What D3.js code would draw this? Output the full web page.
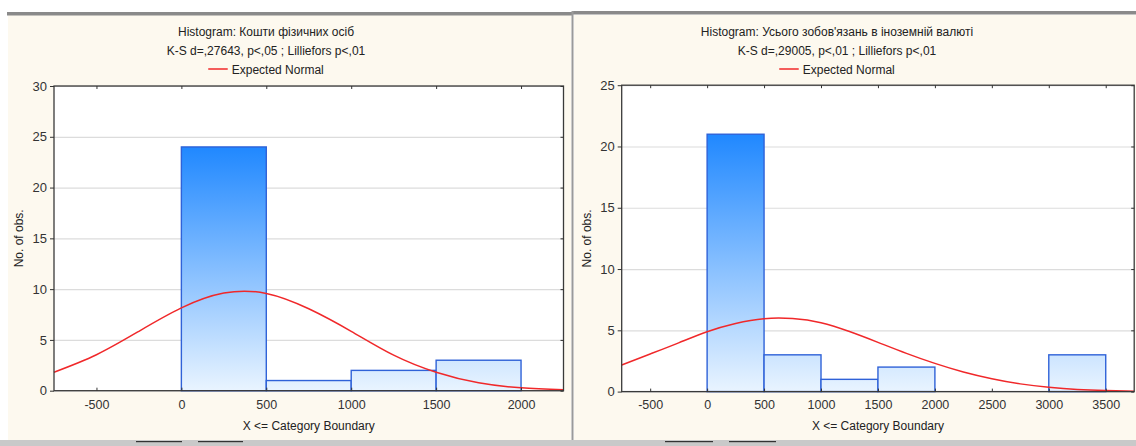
<!DOCTYPE html>
<html><head><meta charset="utf-8">
<script src="https://cdn.jsdelivr.net/npm/d3@7"></script>
<style>
html,body{margin:0;padding:0;background:#fff;}
svg{display:block;font-family:"Liberation Sans",Arial,sans-serif;}
</style></head>
<body>
<svg id="c" width="1136" height="446"></svg>
<script>
// ---------- DATA ----------
const leftTitle = "Histogram: Кошти фізичних осіб";
const leftStats = "K-S d=,27643, p<,05 ; Lilliefors p<,01";
const leftBinStarts = [0, 500, 1000, 1500];
const leftCounts = [24, 1, 2, 3];
const leftCurveX = [-750, -500, -250, 0, 250, 500, 750, 1000, 1250, 1500, 1750, 2000, 2250];
const leftCurveY = [1.82, 3.54, 5.85, 8.15, 9.61, 9.58, 8.07, 5.85, 3.5, 1.82, 0.78, 0.28, 0.09];
const leftXTicks = [-500, 0, 500, 1000, 1500, 2000];
const leftYTicks = [0, 5, 10, 15, 20, 25, 30];

const rightTitle = "Histogram: Усього зобов'язань в іноземній валюті";
const rightStats = "K-S d=,29005, p<,01 ; Lilliefors p<,01";
const rightBinStarts = [0, 500, 1000, 1500, 3000];
const rightCounts = [21, 3, 1, 2, 3];
const rightCurveX = [-750, -500, -250, 0, 250, 500, 750, 1000, 1250, 1500, 1750, 2000, 2250, 2500, 2750, 3000, 3250, 3500, 3750];
const rightCurveY = [2.17, 3.07, 3.98, 4.89, 5.56, 5.95, 5.96, 5.62, 4.9, 4.02, 3.12, 2.3, 1.6, 1.05, 0.63, 0.35, 0.17, 0.08, 0.03];
const rightXTicks = [-500, 0, 500, 1000, 1500, 2000, 2500, 3000, 3500];
const rightYTicks = [0, 5, 10, 15, 20, 25];

const binWidth = 500;
const legendLabel = "Expected Normal";
const xTitle = "X <= Category Boundary";
const yTitle = "No. of obs.";

// ---------- DRAW ----------
const svg = d3.select("#c");
const cream = "#fdf9ef";

// background panels
svg.append("rect").attr("x",0).attr("y",0).attr("width",1136).attr("height",446).attr("fill","#fff");
svg.append("rect").attr("x",8).attr("y",15).attr("width",563).attr("height",425).attr("fill",cream);
svg.append("rect").attr("x",574).attr("y",15).attr("width",562).attr("height",425).attr("fill",cream);
svg.append("rect").attr("x",7).attr("y",12).attr("width",565).attr("height",3.5).attr("fill","#8a8a8a");
svg.append("rect").attr("x",572).attr("y",11).attr("width",564).attr("height",3.5).attr("fill","#8a8a8a");
svg.append("rect").attr("x",571.5).attr("y",11).attr("width",2).attr("height",429).attr("fill","#9a9a9a");
// bottom strip
svg.append("rect").attr("x",0).attr("y",440).attr("width",1136).attr("height",6).attr("fill","#c9c9c9");
[[136,182],[198,243],[665,713],[729,776]].forEach(s=>{
  svg.append("rect").attr("x",s[0]).attr("y",441).attr("width",s[1]-s[0]).attr("height",1.2).attr("fill","#333");
});

const defs = svg.append("defs");
const fmt = d => String(d);

function panel(o){
  const x = d3.scaleLinear().domain(o.xDomain).range([o.left, o.right]);
  const y = d3.scaleLinear().domain(o.yDomain).range([o.bottom, o.top]);
  const g = svg.append("g");
  const W = o.right - o.left, H = o.bottom - o.top;

  g.append("rect").attr("x",o.left).attr("y",o.top).attr("width",W).attr("height",H).attr("fill","#fff");

  // grid
  const grid = g.append("g").attr("transform",`translate(${o.left},0)`)
    .call(d3.axisLeft(y).tickValues(o.yTicks).tickSize(-W).tickFormat(""));
  grid.select(".domain").remove();
  grid.selectAll("line").attr("stroke","#dcdcdc").attr("stroke-width",1.2);

  // gradient
  const gid = "grad"+o.id;
  const maxC = d3.max(o.counts);
  const grad = defs.append("linearGradient").attr("id",gid)
    .attr("gradientUnits","userSpaceOnUse")
    .attr("x1",0).attr("x2",0).attr("y1",y(maxC)).attr("y2",y(0));
  grad.append("stop").attr("offset","0%").attr("stop-color","#2088ff");
  grad.append("stop").attr("offset","100%").attr("stop-color","#e9f4ff");

  // bars
  g.selectAll("rect.bar").data(o.binStarts.map((s,i)=>({s, c:o.counts[i]})))
    .enter().append("rect").attr("class","bar")
    .attr("x",d=>x(d.s)).attr("width",d=>x(d.s+binWidth)-x(d.s))
    .attr("y",d=>y(d.c)).attr("height",d=>y(0)-y(d.c))
    .attr("fill",`url(#${gid})`).attr("stroke","#2f62d8").attr("stroke-width",1.4);

  // curve
  const line = d3.line().x(d=>x(d[0])).y(d=>y(d[1])).curve(d3.curveNatural);
  g.append("path").datum(o.curveX.map((v,i)=>[v,o.curveY[i]]))
    .attr("d",line).attr("fill","none").attr("stroke","#f0282a").attr("stroke-width",1.5);

  // frame
  g.append("rect").attr("x",o.left).attr("y",o.top).attr("width",W).attr("height",H)
    .attr("fill","none").attr("stroke","#3a3a3a").attr("stroke-width",1.3);

  // axes
  const ax = g.append("g").attr("transform",`translate(0,${o.bottom})`)
    .call(d3.axisBottom(x).tickValues(o.xTicks).tickSize(-3).tickPadding(9).tickFormat(fmt));
  ax.select(".domain").remove();
  ax.selectAll("line").attr("stroke","#333");
  ax.selectAll("text").attr("font-size",12.5).attr("fill","#333").attr("font-family","Liberation Sans, Arial, sans-serif");

  const at = g.append("g").attr("transform",`translate(0,${o.top})`)
    .call(d3.axisTop(x).tickValues(o.xTicks).tickSize(-3).tickFormat(""));
  at.select(".domain").remove();
  at.selectAll("line").attr("stroke","#333");

  const ay = g.append("g").attr("transform",`translate(${o.left},0)`)
    .call(d3.axisLeft(y).tickValues(o.yTicks).tickSize(4).tickPadding(3).tickFormat(fmt));
  ay.select(".domain").remove();
  ay.selectAll("line").attr("stroke","#333");
  ay.selectAll("text").attr("font-size",13).attr("fill","#333").attr("font-family","Liberation Sans, Arial, sans-serif");

  const ar = g.append("g").attr("transform",`translate(${o.right},0)`)
    .call(d3.axisRight(y).tickValues(o.yTicks).tickSize(-3).tickFormat(""));
  ar.select(".domain").remove();
  ar.selectAll("line").attr("stroke","#333");

  // titles
  const tc = o.titleX;
  g.append("text").attr("x",tc).attr("y",36).attr("text-anchor","middle").attr("font-size",12).attr("fill","#222").text(o.title);
  g.append("text").attr("x",tc).attr("y",54.5).attr("text-anchor","middle").attr("font-size",12).attr("fill","#222").text(o.stats);
  const lg = g.append("g");
  const lt = lg.append("text").attr("x",23.5).attr("y",73.5).attr("font-size",12).attr("fill","#222").text(legendLabel);
  lg.append("line").attr("x1",0).attr("x2",19.5).attr("y1",69).attr("y2",69).attr("stroke","#f0282a").attr("stroke-width",1.5);
  const lw = 23.5 + lt.node().getComputedTextLength();
  lg.attr("transform",`translate(${tc - lw/2},0)`);

  g.append("text").attr("x",(o.left+o.right)/2).attr("y",430).attr("text-anchor","middle")
    .attr("font-size",12).attr("fill","#222").text(xTitle);
  g.append("text").attr("transform",`translate(${o.yTitleX},${(o.top+o.bottom)/2}) rotate(-90)`)
    .attr("text-anchor","middle").attr("font-size",12).attr("fill","#222").text(yTitle);
}

panel({id:"L", left:54, right:563.5, top:86, bottom:390.7,
  xDomain:[-750,2250], yDomain:[0,30], xTicks:leftXTicks, yTicks:leftYTicks,
  binStarts:leftBinStarts, counts:leftCounts, curveX:leftCurveX, curveY:leftCurveY,
  title:leftTitle, stats:leftStats, titleX:266, yTitleX:22.5});

panel({id:"R", left:621.7, right:1134.2, top:85.2, bottom:391.6,
  xDomain:[-750,3750], yDomain:[0,25], xTicks:rightXTicks, yTicks:rightYTicks,
  binStarts:rightBinStarts, counts:rightCounts, curveX:rightCurveX, curveY:rightCurveY,
  title:rightTitle, stats:rightStats, titleX:837, yTitleX:591});
</script>
</body></html>
